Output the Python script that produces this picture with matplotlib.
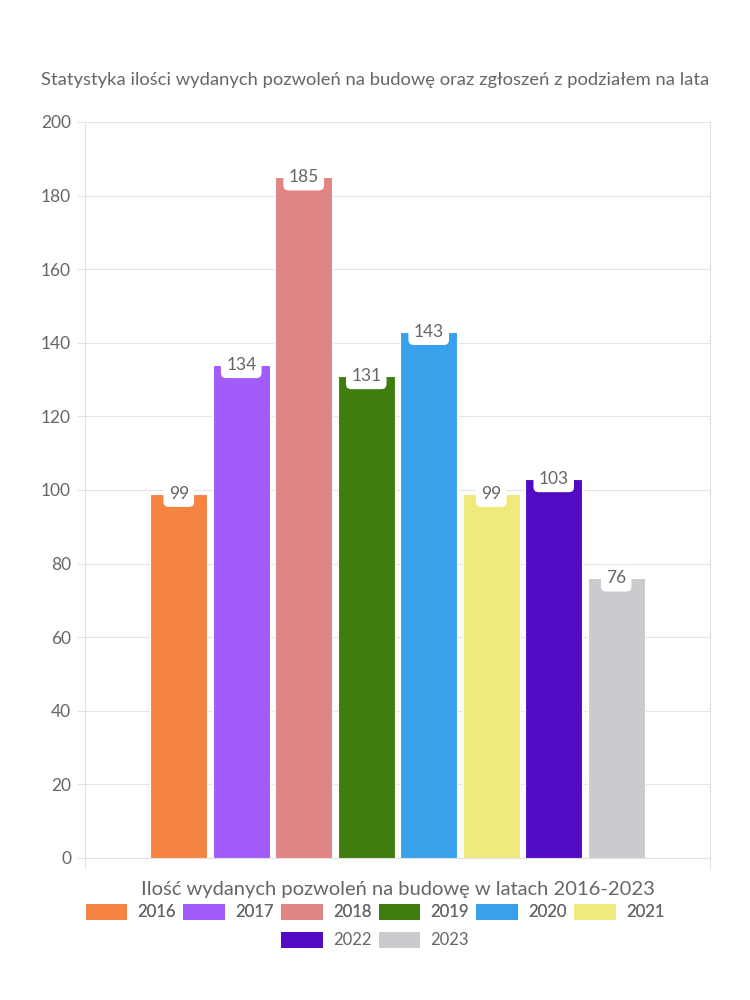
import matplotlib.pyplot as plt
from matplotlib.patches import Patch

years = ["2016", "2017", "2018", "2019", "2020", "2021", "2022", "2023"]
values = [99, 134, 185, 131, 143, 99, 103, 76]
colors = ["#F58442", "#A25CFC", "#E08484", "#3E7D0E", "#37A2EB", "#F0EA7C", "#520BC2", "#CBCBCF"]
title = "Statystyka ilości wydanych pozwoleń na budowę oraz zgłoszeń z podziałem na lata"
xlabel = "Ilość wydanych pozwoleń na budowę w latach 2016-2023"

plt.rcParams['font.family'] = ['Lato', 'DejaVu Sans']
txt = "#666666"

fig = plt.figure(figsize=(7.5, 10), dpi=100)
ax = fig.add_axes([85/750, 1-858/1000, 625/750, (858-122)/1000])

xs = list(range(len(years)))
ax.bar(xs, values, width=0.91, color=colors, edgecolor="white", linewidth=0.8, zorder=3)
for x, v in zip(xs, values):
    ax.annotate(str(v), (x, v), ha="center", va="center", fontsize=12.5, color=txt,
                bbox=dict(boxstyle="round,pad=0.3,rounding_size=0.3", fc="white", ec="none"),
                zorder=5)

ax.set_xlim(-1.5, 8.5)
ax.set_ylim(0, 200)
ax.set_yticks(range(0, 201, 20))
ax.tick_params(axis="y", labelsize=12.5, colors=txt, length=6, color="#e5e5e5", pad=4)
ax.set_xticks([-1.5, 8.5])
ax.set_xticklabels(["", ""])
ax.tick_params(axis="x", length=8, color="#e5e5e5")
ax.grid(axis="y", color="#e5e5e5", linewidth=0.8, zorder=0)
for s in ["left", "right", "bottom"]:
    ax.spines[s].set_color("#e0e0e0")
ax.spines["top"].set_visible(False)
ax.set_xlabel(xlabel, fontsize=14.5, color=txt, labelpad=5)

fig.text(375/750, 1-80/1000, title, ha="center", va="center", fontsize=13.2, color=txt)

handles = [Patch(facecolor=c, edgecolor="none") for c in colors]
kw = dict(frameon=False, fontsize=12, handlelength=2.5, handleheight=1.1,
          columnspacing=0.45, handletextpad=0.6, labelcolor=txt)
leg1 = fig.legend(handles[:6], years[:6], ncol=6, loc="center", bbox_to_anchor=(0.5, 1-912/1000), **kw)
leg2 = fig.legend(handles[6:], years[6:], ncol=2, loc="center", bbox_to_anchor=(0.5, 1-940/1000), **kw)
fig.add_artist(leg1)

fig.savefig("out.png", dpi=100)
